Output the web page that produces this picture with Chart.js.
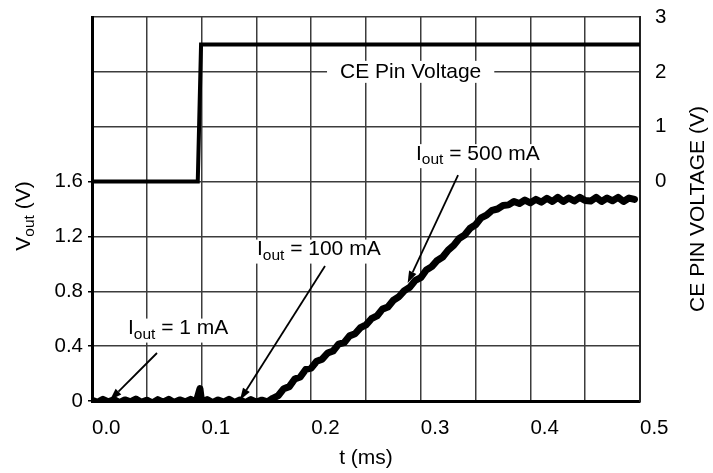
<!DOCTYPE html>
<html>
<head>
<meta charset="utf-8">
<script src="https://cdn.jsdelivr.net/npm/chart.js@4.4.1/dist/chart.umd.min.js"></script>
<style>
  html, body { margin: 0; padding: 0; background: #fff; }
  #wrap { width: 713px; height: 473px; }
</style>
</head>
<body>
<div id="wrap"><canvas id="chart"></canvas></div>
<script>
// Vout trace (ms, V)
const vTime = [
  0.000, 0.005, 0.010, 0.015, 0.020, 0.025, 0.030, 0.035, 0.040, 0.045,
  0.050, 0.055, 0.060, 0.065, 0.070, 0.075, 0.080, 0.085, 0.090, 0.095,
  0.0985, 0.100, 0.105, 0.110, 0.115, 0.120, 0.125, 0.130, 0.135, 0.140,
  0.145, 0.150, 0.155, 0.160, 0.165, 0.170, 0.175, 0.180, 0.185, 0.190,
  0.195, 0.200, 0.205, 0.210, 0.215, 0.220, 0.225, 0.230, 0.235, 0.240,
  0.245, 0.250, 0.255, 0.260, 0.265, 0.270, 0.275, 0.280, 0.285, 0.290,
  0.295, 0.300, 0.305, 0.310, 0.315, 0.320, 0.325, 0.330, 0.335, 0.340,
  0.345, 0.350, 0.355, 0.360, 0.365, 0.370, 0.375, 0.380, 0.385, 0.390,
  0.395, 0.400, 0.405, 0.410, 0.415, 0.420, 0.425, 0.430, 0.435, 0.440,
  0.445, 0.450, 0.455, 0.460, 0.465, 0.470, 0.475, 0.480, 0.485, 0.490,
  0.495
];
const vOut = [
  0.006, -0.010, 0.012, -0.006, 0.010, -0.012, 0.008, -0.006, 0.014, -0.010,
  0.006, -0.014, 0.010, -0.008, 0.012, -0.011, 0.008, -0.006, 0.012, -0.008,
  0.090, -0.006, 0.010, -0.012, 0.008, -0.008, 0.012, -0.010, 0.008, -0.012,
  0.010, -0.008, 0.006, -0.006, 0.020, 0.040, 0.090, 0.105, 0.160, 0.175,
  0.230, 0.240, 0.290, 0.305, 0.350, 0.365, 0.415, 0.425, 0.475, 0.490,
  0.535, 0.555, 0.600, 0.620, 0.670, 0.685, 0.735, 0.760, 0.805, 0.830,
  0.880, 0.900, 0.955, 0.980, 1.025, 1.050, 1.100, 1.135, 1.185, 1.210,
  1.260, 1.285, 1.335, 1.355, 1.390, 1.400, 1.425, 1.430, 1.455, 1.440,
  1.465, 1.445, 1.470, 1.450, 1.478, 1.455, 1.485, 1.455, 1.480, 1.458,
  1.485, 1.462, 1.458, 1.485, 1.455, 1.480, 1.460, 1.485, 1.455, 1.480,
  1.470
];

// CE pin step (ms, V on right axis)
const ceTime = [0, 0.0965, 0.0995, 0.5];
const ceVolt = [0, 0, 2.5, 2.5];

// labelled ticks
const xLabels = [0, 0.1, 0.2, 0.3, 0.4, 0.5];
const leftLabels = [0, 0.4, 0.8, 1.2, 1.6];
const rightLabels = [0, 1, 2, 3];

// callouts: label anchor (t, Vout) and arrow from/to (t, Vout)
const callouts = [
  { sub: '1 mA',   at: [0.0328, 0.528], from: [0.0593, 0.350], to: [0.0164, 0.007] },
  { sub: '100 mA', at: [0.1505, 1.104], from: [0.2126, 0.984], to: [0.1350, 0.007] },
  { sub: '500 mA', at: [0.2956, 1.800], from: [0.3340, 1.647], to: [0.2880, 0.860] }
];

const FONT = "'Liberation Sans', Arial, sans-serif";
const gridColor = '#3c3c3c';
const LBL = 21;   // annotation / title size
const SUB = 15.5; // subscript size

Chart.defaults.font.family = FONT;
Chart.defaults.font.size = 20.5;
Chart.defaults.color = '#000';

function near(list, v) {
  return list.some(t => Math.abs(t - v) < 1e-6);
}

// draws main + subscript + rest, left aligned, vertically centred on y
function subText(ctx, x, y, main, sub, rest, size, subSize, measureOnly) {
  ctx.font = size + 'px ' + FONT;
  const w1 = ctx.measureText(main).width;
  const w3 = ctx.measureText(rest).width;
  ctx.font = subSize + 'px ' + FONT;
  const w2 = ctx.measureText(sub).width;
  if (measureOnly) return w1 + w2 + w3;
  ctx.textBaseline = 'middle';
  ctx.textAlign = 'left';
  ctx.font = size + 'px ' + FONT;
  ctx.fillText(main, x, y);
  ctx.font = subSize + 'px ' + FONT;
  ctx.fillText(sub, x + w1, y + 6);
  ctx.font = size + 'px ' + FONT;
  ctx.fillText(rest, x + w1 + w2, y);
  return w1 + w2 + w3;
}

function arrow(ctx, x1, y1, x2, y2) {
  const ang = Math.atan2(y2 - y1, x2 - x1);
  const len = 12, half = 4;
  const bx = x2 - len * Math.cos(ang), by = y2 - len * Math.sin(ang);
  ctx.strokeStyle = '#000';
  ctx.lineWidth = 1.8;
  ctx.beginPath();
  ctx.moveTo(x1, y1);
  ctx.lineTo(bx, by);
  ctx.stroke();
  ctx.fillStyle = '#000';
  ctx.beginPath();
  ctx.moveTo(x2, y2);
  ctx.lineTo(bx + half * Math.sin(ang), by - half * Math.cos(ang));
  ctx.lineTo(bx - half * Math.sin(ang), by + half * Math.cos(ang));
  ctx.closePath();
  ctx.fill();
}

const notesPlugin = {
  id: 'notes',
  beforeDatasetsDraw(chart) {
    const { ctx, scales: { x, y, y2 } } = chart;
    ctx.save();
    // label boxes sit over the grid
    callouts.forEach(c => {
      const px = x.getPixelForValue(c.at[0]);
      const py = y.getPixelForValue(c.at[1]);
      const w = subText(ctx, px, py, 'I', 'out', ' = ' + c.sub, LBL, SUB, true);
      ctx.fillStyle = '#fff';
      ctx.fillRect(px - 3, py - 10, w + 6, 24);
      ctx.fillStyle = '#000';
      subText(ctx, px, py, 'I', 'out', ' = ' + c.sub, LBL, SUB);
    });
    // CE Pin Voltage label on the 2 V gridline
    const cx = x.getPixelForValue(0.2263);
    const cy = y2.getPixelForValue(2);
    ctx.font = LBL + 'px ' + FONT;
    const cw = ctx.measureText('CE Pin Voltage').width;
    ctx.fillStyle = '#fff';
    ctx.fillRect(cx - 13, cy - 11, cw + 26, 22);
    ctx.fillStyle = '#000';
    ctx.textAlign = 'left';
    ctx.textBaseline = 'middle';
    ctx.fillText('CE Pin Voltage', cx, cy);
    ctx.restore();
  },
  afterDatasetsDraw(chart) {
    const { ctx, scales: { x, y } } = chart;
    ctx.save();
    callouts.forEach(c => {
      arrow(ctx,
        x.getPixelForValue(c.from[0]), y.getPixelForValue(c.from[1]),
        x.getPixelForValue(c.to[0]), y.getPixelForValue(c.to[1]));
    });
    ctx.restore();
  },
  afterDraw(chart) {
    const { ctx, chartArea } = chart;
    const midX = (chartArea.left + chartArea.right) / 2;
    const midY = (chartArea.top + chartArea.bottom) / 2;
    ctx.save();
    ctx.fillStyle = '#000';
    // x title
    ctx.font = LBL + 'px ' + FONT;
    ctx.textAlign = 'center';
    ctx.textBaseline = 'middle';
    ctx.fillText('t (ms)', midX, 458);
    // left title with subscript
    ctx.save();
    ctx.translate(24, midY + 7);
    ctx.rotate(-Math.PI / 2);
    const w = subText(ctx, 0, 0, 'V', 'out', ' (V)', LBL, SUB, true);
    subText(ctx, -w / 2, 0, 'V', 'out', ' (V)', LBL, SUB);
    ctx.restore();
    // right title
    ctx.save();
    ctx.translate(698, midY);
    ctx.rotate(-Math.PI / 2);
    ctx.font = LBL + 'px ' + FONT;
    ctx.textAlign = 'center';
    ctx.textBaseline = 'middle';
    ctx.fillText('CE PIN VOLTAGE (V)', 0, 0);
    ctx.restore();
    ctx.restore();
  }
};

function noPad(s) {
  s.paddingTop = 0;
  s.paddingBottom = 0;
  s.paddingLeft = 0;
  s.paddingRight = 0;
}

new Chart(document.getElementById('chart'), {
  type: 'line',
  data: {
    datasets: [
      {
        label: 'CE Pin Voltage',
        data: ceTime.map((t, i) => ({ x: t, y: ceVolt[i] })),
        yAxisID: 'y2',
        borderColor: '#000',
        borderWidth: 4,
        pointRadius: 0,
        tension: 0
      },
      {
        label: 'Vout',
        data: vTime.map((t, i) => ({ x: t, y: vOut[i] })),
        yAxisID: 'y',
        borderColor: '#000',
        borderWidth: 7,
        borderJoinStyle: 'round',
        borderCapStyle: 'round',
        pointRadius: 0,
        tension: 0
      }
    ]
  },
  options: {
    responsive: true,
    maintainAspectRatio: false,
    animation: false,
    layout: { padding: { top: 17, left: 0, right: 0, bottom: 0 } },
    plugins: {
      legend: { display: false },
      tooltip: { enabled: false }
    },
    scales: {
      x: {
        type: 'linear',
        min: 0,
        max: 0.5,
        ticks: {
          stepSize: 0.05,
          autoSkip: false,
          maxRotation: 0,
          align: 'start',
          padding: 15,
          callback: v => {
            const r = Math.round(v * 100) / 100;
            return near(xLabels, r) ? r.toFixed(1) : '';
          }
        },
        grid: { color: gridColor, lineWidth: 1.5, drawTicks: false },
        border: { color: '#000', width: 3 },
        afterFit: s => { s.height = 72; noPad(s); }
      },
      y: {
        position: 'left',
        min: 0,
        max: 2.8,
        ticks: {
          stepSize: 0.4,
          padding: 5,
          callback: v => {
            const r = Math.round(v * 10) / 10;
            if (!near(leftLabels, r)) return '';
            return r === 0 ? '0' : r.toFixed(1);
          }
        },
        grid: {
          color: gridColor,
          lineWidth: 1.5,
          tickLength: 4,
          tickColor: c => (c.tick && c.tick.label) ? '#000' : 'rgba(0,0,0,0)'
        },
        border: { color: '#000', width: 3 },
        afterFit: s => { s.width = 92; noPad(s); }
      },
      y2: {
        position: 'right',
        min: -4,
        max: 3,
        ticks: {
          stepSize: 1,
          padding: 15,
          callback: v => near(rightLabels, v) ? String(v) : ''
        },
        grid: { drawOnChartArea: false, drawTicks: false },
        border: { color: '#222', width: 2 },
        afterFit: s => { s.width = 73; noPad(s); }
      }
    }
  },
  plugins: [notesPlugin]
});
</script>
</body>
</html>
